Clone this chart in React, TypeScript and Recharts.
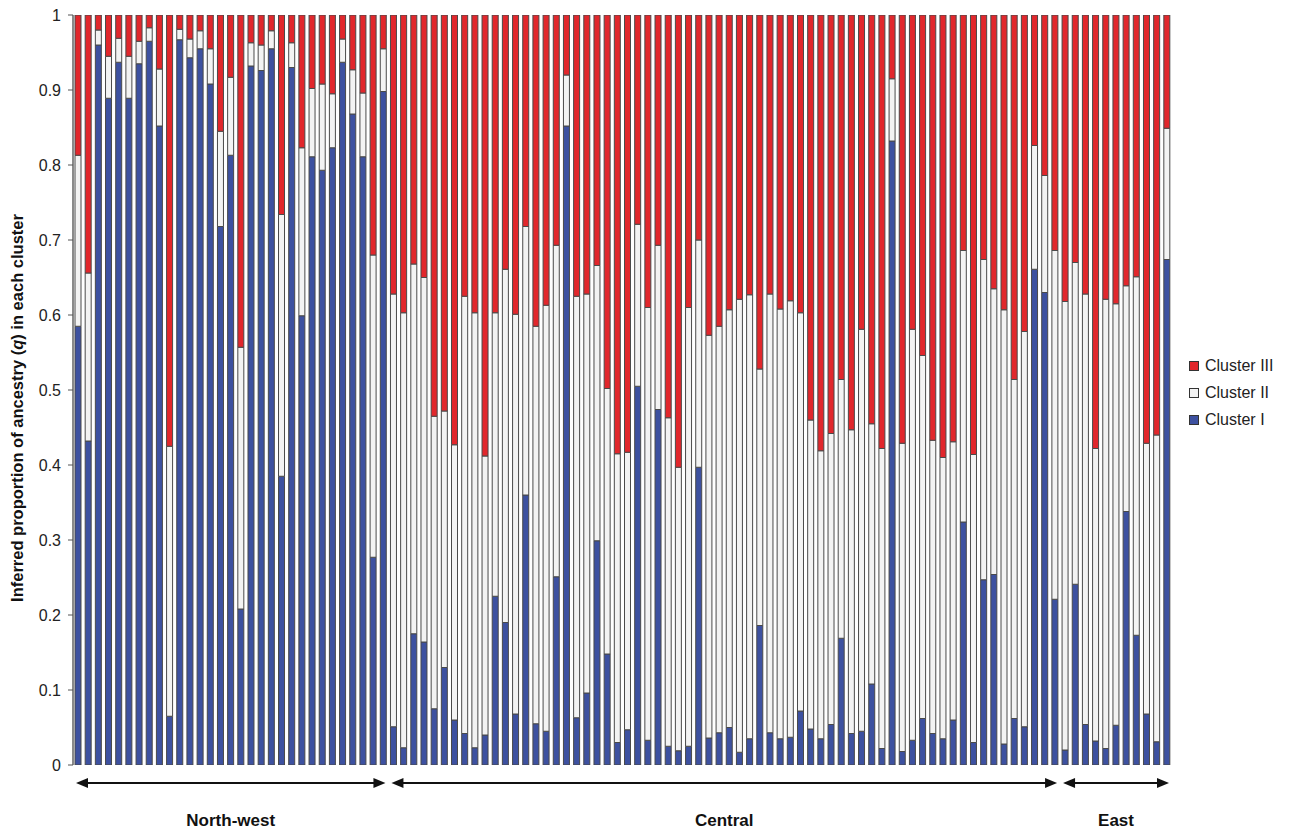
import { BarChart, Bar, XAxis, YAxis, Legend } from "recharts"

const FONT = "'Liberation Sans', Arial, Helvetica, sans-serif"

const groupNames = ["North-west", "Central", "East"]
const groupSizes = [31, 66, 11]

// proportion of ancestry per individual
const clusterI = [
  0.585, 0.432, 0.96, 0.889, 0.937, 0.889, 0.935, 0.965, 0.852, 0.065,
  0.967, 0.943, 0.955, 0.908, 0.718, 0.813, 0.208, 0.932, 0.926, 0.955,
  0.385, 0.93, 0.599, 0.811, 0.793, 0.823, 0.937, 0.868, 0.811, 0.277,
  0.898,
  0.051, 0.023, 0.175, 0.164, 0.075, 0.13, 0.06, 0.042, 0.023, 0.04,
  0.225, 0.19, 0.068, 0.36, 0.055, 0.045, 0.251, 0.852, 0.063, 0.096,
  0.299, 0.148, 0.03, 0.047, 0.505, 0.033, 0.474, 0.025, 0.019, 0.025,
  0.397, 0.036, 0.043, 0.05, 0.017, 0.035, 0.186, 0.043, 0.035, 0.037,
  0.072, 0.048, 0.035, 0.054, 0.169, 0.042, 0.045, 0.108, 0.022, 0.832,
  0.018, 0.033, 0.062, 0.042, 0.035, 0.06, 0.324, 0.03, 0.247, 0.254,
  0.028, 0.062, 0.051, 0.661, 0.63, 0.221,
  0.02, 0.241, 0.054, 0.032, 0.022, 0.053, 0.338, 0.173, 0.068, 0.031,
  0.674,
]

const clusterII = [
  0.228, 0.224, 0.02, 0.056, 0.032, 0.056, 0.03, 0.018, 0.076, 0.36,
  0.014, 0.025, 0.024, 0.047, 0.127, 0.104, 0.349, 0.031, 0.034, 0.024,
  0.349, 0.033, 0.224, 0.091, 0.115, 0.072, 0.031, 0.059, 0.085, 0.403,
  0.057,
  0.577, 0.58, 0.493, 0.486, 0.39, 0.342, 0.367, 0.583, 0.58, 0.372,
  0.378, 0.471, 0.533, 0.358, 0.53, 0.568, 0.442, 0.068, 0.562, 0.532,
  0.367, 0.354, 0.385, 0.37, 0.216, 0.577, 0.219, 0.438, 0.378, 0.585,
  0.303, 0.537, 0.542, 0.557, 0.604, 0.592, 0.342, 0.585, 0.573, 0.582,
  0.531, 0.412, 0.384, 0.388, 0.345, 0.405, 0.536, 0.347, 0.4, 0.083,
  0.411, 0.548, 0.484, 0.391, 0.375, 0.371, 0.362, 0.384, 0.427, 0.381,
  0.579, 0.452, 0.527, 0.165, 0.156, 0.465,
  0.598, 0.429, 0.574, 0.39, 0.599, 0.562, 0.301, 0.478, 0.361, 0.409,
  0.175,
]

const clusterIII = [
  0.187, 0.344, 0.02, 0.055, 0.031, 0.055, 0.035, 0.017, 0.072, 0.575,
  0.019, 0.032, 0.021, 0.045, 0.155, 0.083, 0.443, 0.037, 0.04, 0.021,
  0.266, 0.037, 0.177, 0.098, 0.092, 0.105, 0.032, 0.073, 0.104, 0.32,
  0.045,
  0.372, 0.397, 0.332, 0.35, 0.535, 0.528, 0.573, 0.375, 0.397, 0.588,
  0.397, 0.339, 0.399, 0.282, 0.415, 0.387, 0.307, 0.08, 0.375, 0.372,
  0.334, 0.498, 0.585, 0.583, 0.279, 0.39, 0.307, 0.537, 0.603, 0.39,
  0.3, 0.427, 0.415, 0.393, 0.379, 0.373, 0.472, 0.372, 0.392, 0.381,
  0.397, 0.54, 0.581, 0.558, 0.486, 0.553, 0.419, 0.545, 0.578, 0.085,
  0.571, 0.419, 0.454, 0.567, 0.59, 0.569, 0.314, 0.586, 0.326, 0.365,
  0.393, 0.486, 0.422, 0.174, 0.214, 0.314,
  0.382, 0.33, 0.372, 0.578, 0.379, 0.385, 0.361, 0.349, 0.571, 0.56,
  0.151,
]

const yTicks = [0, 0.1, 0.2, 0.3, 0.4, 0.5, 0.6, 0.7, 0.8, 0.9, 1]

const BLUE = "#3d51a0"
const WHITE = "#f3f3f3"
const RED = "#e1272c"
const EDGE = "#4a4a4a"

const legendNames = ["Cluster III", "Cluster II", "Cluster I"]
const legendColors = [RED, WHITE, BLUE]

const data = clusterI.map((v, i) => ({
  id: i + 1,
  c1: v,
  c2: clusterII[i],
  c3: clusterIII[i],
}))

const W = 1295
const H = 832
const LEFT = 73
const RIGHT = 123
const PITCH = (W - LEFT - RIGHT) / data.length

const groupStarts = groupSizes.map((_, g) =>
  groupSizes.slice(0, g).reduce((a, b) => a + b, 0)
)

function GroupTick(props: any) {
  const { x, y, index, payload } = props
  const g = groupStarts.indexOf(index)
  if (g < 0) return null
  const half = payload && payload.offset ? payload.offset : PITCH / 2
  const x1 = x - half + 3
  const x2 = x - half + groupSizes[g] * half * 2 - 3
  const ay = y + 18
  return (
    <g>
      <line x1={x1 + 6} x2={x2 - 6} y1={ay} y2={ay} stroke="#111" strokeWidth={2} />
      <polygon points={`${x1},${ay} ${x1 + 12},${ay - 5} ${x1 + 12},${ay + 5}`} fill="#111" />
      <polygon points={`${x2},${ay} ${x2 - 12},${ay - 5} ${x2 - 12},${ay + 5}`} fill="#111" />
      <text
        x={(x1 + x2) / 2}
        y={y + 61}
        textAnchor="middle"
        fontFamily={FONT}
        fontWeight="bold"
        fontSize={17}
        fill="#111"
      >
        {groupNames[g]}
      </text>
    </g>
  )
}

function YTitle(props: any) {
  const vb = props.viewBox || { y: 15, height: 750 }
  const cx = 23
  const cy = vb.y + vb.height / 2 + 18
  return (
    <text
      x={cx}
      y={cy}
      transform={`rotate(-90 ${cx} ${cy})`}
      textAnchor="middle"
      fontFamily={FONT}
      fontWeight="bold"
      fontSize={16.5}
      fill="#111"
    >
      Inferred proportion of ancestry (<tspan fontStyle="italic">q</tspan>) in each cluster
    </text>
  )
}

function ClusterLegend() {
  return (
    <div style={{ fontFamily: FONT, fontSize: 16, color: "#222" }}>
      {legendNames.map((n, i) => (
        <div key={n} style={{ display: "flex", alignItems: "center", height: 27 }}>
          <span
            style={{
              display: "inline-block",
              width: 8,
              height: 8,
              background: legendColors[i],
              border: "1px solid #333",
              marginRight: 6,
            }}
          />
          {n}
        </div>
      ))}
    </div>
  )
}

export default function App() {
  return (
    <div style={{ position: "absolute", left: 0, top: 0, width: W, height: H, background: "#fff" }}>
      <BarChart
        width={W}
        height={H}
        data={data}
        margin={{ top: 15, right: RIGHT, bottom: 0, left: 0 }}
        barSize={6}
      >
        <XAxis
          dataKey="id"
          interval={0}
          height={67}
          tickLine={false}
          axisLine={false}
          tickSize={0}
          tickMargin={0}
          tick={<GroupTick />}
        />
        <YAxis
          width={LEFT}
          domain={[0, 1]}
          allowDataOverflow
          ticks={yTicks}
          interval={0}
          tickSize={5}
          tickMargin={7}
          tick={{ fontSize: 16, fill: "#222", fontFamily: FONT }}
          axisLine={{ stroke: "#8a8a8a", strokeWidth: 2 }}
          tickLine={{ stroke: "#555" }}
          label={<YTitle />}
        />
        <Legend
          layout="vertical"
          align="center"
          verticalAlign="middle"
          content={<ClusterLegend />}
          wrapperStyle={{ left: 1189, top: 352, width: "auto" }}
        />
        <Bar dataKey="c1" stackId="q" fill={BLUE} stroke={EDGE} strokeWidth={1} isAnimationActive={false} />
        <Bar dataKey="c2" stackId="q" fill={WHITE} stroke={EDGE} strokeWidth={1} isAnimationActive={false} />
        <Bar dataKey="c3" stackId="q" fill={RED} stroke={EDGE} strokeWidth={1} isAnimationActive={false} />
      </BarChart>
    </div>
  )
}
